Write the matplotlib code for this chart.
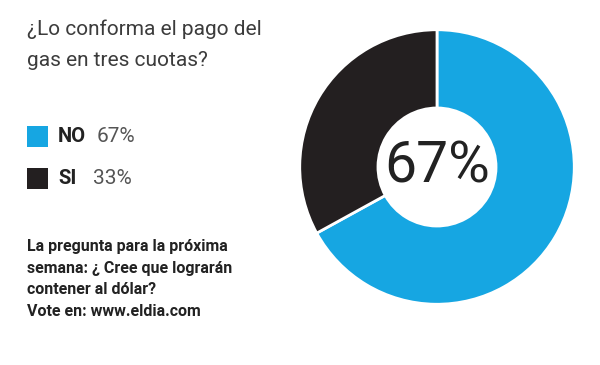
import matplotlib.pyplot as plt

# data
labels = ["NO", "SI"]
values = [67, 33]
colors = ["#16a6e2", "#231f20"]
title_lines = ["¿Lo conforma el pago del", "gas en tres cuotas?"]
footer_lines = ["La pregunta para la próxima",
                "semana: ¿ Cree que lograrán",
                "contener al dólar?",
                "Vote en: www.eldia.com"]

W, H = 600, 365
fig = plt.figure(figsize=(6, 3.65), dpi=100)
fig.patch.set_facecolor("white")

# donut: center ~(437,167) px, radius ~140 px
cx, cy, r = 437, 167, 140
ax = fig.add_axes([(cx - r) / W, (H - cy - r) / H, 2 * r / W, 2 * r / H])
ax.pie(values, colors=colors, startangle=90, counterclock=False,
       radius=1.0, wedgeprops=dict(width=0.57, edgecolor="white", linewidth=2))
ax.set_xlim(-1.02, 1.02)
ax.set_ylim(-1.02, 1.02)
ax.set_aspect("equal")
ax.axis("off")
ax.text(0, 0, f"{values[0]}%", ha="center", va="center", fontsize=41,
        family="Roboto", weight="normal", color="#222222")


def px(x, y):
    return x / W, 1 - y / H


# title
for i, line in enumerate(title_lines):
    fig.text(*px(27, 29 + i * 32), line, fontsize=15, family="Roboto",
             color="#3c3c3c", va="center", ha="left")

# legend
for i, (lab, val, col) in enumerate(zip(labels, values, colors)):
    y = 137 + i * 42
    fig.patches.append(plt.Rectangle(px(27, y + 10), 21 / W, 21 / H,
                                     transform=fig.transFigure,
                                     facecolor=col, edgecolor="none"))
    fig.text(*px(58, y), lab, fontsize=14.5, family="Roboto", weight="bold",
             color="#222222", va="center", ha="left")
    fig.text(*px(97 if lab == "NO" else 93, y), f"{val}%", fontsize=15,
             family="Roboto", weight="normal", color="#555555",
             va="center", ha="left")

# footer
for i, line in enumerate(footer_lines):
    fig.text(*px(27, 247 + i * 21.5), line, fontsize=11.5, family="Roboto",
             weight="bold", color="#222222", va="center", ha="left")

fig.savefig("out.png", dpi=100, facecolor="white")
